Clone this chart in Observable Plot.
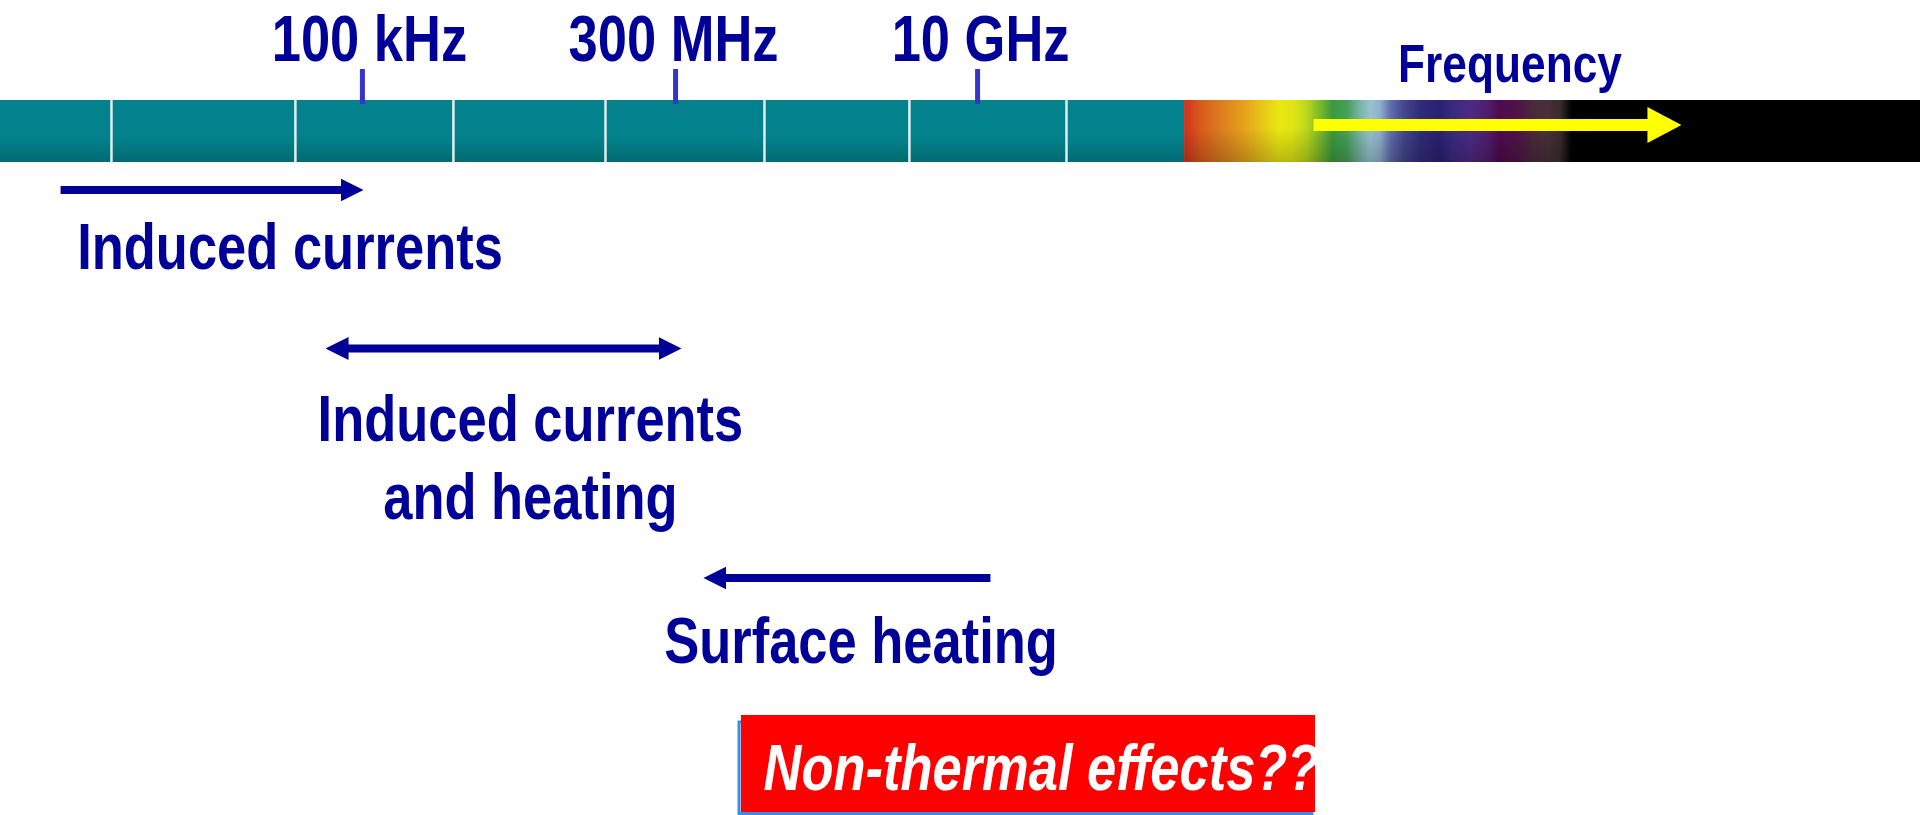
<!DOCTYPE html>
<html>
<head>
<meta charset="utf-8">
<script src="https://cdn.jsdelivr.net/npm/d3@7"></script>
<script src="https://cdn.jsdelivr.net/npm/@observablehq/plot@0.6"></script>
<style>
  html, body { margin: 0; padding: 0; background: #ffffff; overflow: hidden; }
  #chart svg { display: block; }
</style>
</head>
<body>
<div id="chart"></div>
<script>
// ---------------- DATA (x = position along the frequency bar, % of its length) ----------------
const radioCellEdges = [0, 5.78, 15.36, 23.59, 31.51, 39.79, 47.34, 55.52, 61.67];
const opticalBand = [61.67, 100];
const tickLabels = ["100 kHz", "300 MHz", "10 GHz"];
const tickPositions = [18.85, 35.16, 50.89];
const effectLabels = ["Induced currents", "Induced currents\nand heating", "Surface heating"];
const effectFrom = [3.13, 16.93, 51.56];
const effectTo = [18.91, 35.47, 36.61];
const effectHeads = ["end", "both", "end"];
const axisTitle = "Frequency";
const axisArrow = [68.39, 87.55];
const noteLabel = "Non-thermal effects??";
const noteBox = [38.59, 68.49];

// ---------------- LAYOUT & STYLE ----------------
const W = 1920, H = 815;
const L = {
  tickLabelBaseline: 60, tickLabelDx: [7, -2, 3], tickTop: 69, tickBottom: 104,
  barTop: 100, barBottom: 162,
  axisTitleX: 78.62, axisTitleBaseline: 81, axisArrowY: 124.5,
  effectArrowY: [189.5, 348, 577.5],
  effectLabelX: [15.08, 27.6, 44.82],
  effectLabelBaseline: [268, 518, 662],
  boxTop: 715, boxBottom: 812, outline: [38.49, 68.33, 722, 813.5],
  noteX: 39.74, noteBaseline: 789
};
const NAVY = "#000099";
const SPECTRUM = [[0,"#cf321c"],[2.2,"#d85a1c"],[4.9,"#dc7c1e"],[8.6,"#e6a81a"],[10.7,"#e8c818"],[13.0,"#e8e810"],[14.8,"#e0e414"],[16.7,"#b8d81c"],[18.5,"#7ab82a"],[20.2,"#3a9a3e"],[22.1,"#44a058"],[23.9,"#78b4a8"],[25.3,"#98c2cc"],[26.6,"#90b0cc"],[28.0,"#6070ac"],[29.8,"#44488e"],[32.1,"#302c7a"],[34.8,"#2a2070"],[36.5,"#3a2a80"],[38.9,"#4e2a84"],[41.2,"#4e1e6e"],[42.9,"#4e0a4e"],[45.7,"#4e1646"],[47.4,"#4a2a3a"],[49.3,"#483038"],[51.1,"#3a2a2e"],[52.7,"#000000"],[100,"#000000"]];
const NAVY_HEAD = 23, YELLOW_HEAD = 34;

// font: Arial Narrow Bold look
function hasFont(name) {
  const c = document.createElement("canvas").getContext("2d");
  const s = "Induced currents 100 kHz";
  let diff = false;
  for (const g of ["monospace", "serif"]) {
    c.font = `bold 64px ${g}`; const a = c.measureText(s).width;
    c.font = `bold 64px "${name}", ${g}`; const b = c.measureText(s).width;
    if (Math.abs(a - b) > 0.5) diff = true;
  }
  return diff;
}
const narrow = hasFont("Liberation Sans Narrow");
const FONT = narrow ? "'Liberation Sans Narrow', 'Arial Narrow', sans-serif" : "'Liberation Sans', Arial, sans-serif";
const SX = narrow ? 1 : 0.82;

// ---------------- TABLES ----------------
const pxToX = px => px * 100 / W;
const cells = d3.pairs(radioCellEdges).map(([x1, x2]) => ({x1, x2}));
const dividers = radioCellEdges.slice(1, -1);
const ticks = tickLabels.map((label, i) => ({label, x: tickPositions[i], lx: tickPositions[i] + pxToX(L.tickLabelDx[i])}));
const effects = effectLabels.map((label, i) => {
  const from = effectFrom[i], to = effectTo[i], dir = Math.sign(to - from);
  const inset = pxToX(NAVY_HEAD / 2);
  return {
    label, heads: effectHeads[i],
    x1: effectHeads[i] === "both" ? from + dir * inset : from,
    x2: to - dir * inset,
    y: L.effectArrowY[i], lx: L.effectLabelX[i], ly: L.effectLabelBaseline[i]
  };
});
const freqArrow = [{x1: axisArrow[0], x2: axisArrow[1] - pxToX(YELLOW_HEAD / 2), y: L.axisArrowY}];

const textStyle = {fontFamily: FONT, fontWeight: "bold", fontSize: 64, fill: NAVY, lineAnchor: "bottom"};

const svg = Plot.plot({
  width: W, height: H, margin: 0,
  x: {domain: [0, 100], range: [0, W], axis: null},
  y: {domain: [0, H], range: [0, H], axis: null},
  style: {background: "transparent", overflow: "visible"},
  marks: [
    // radio band cells
    Plot.rect(cells, {x1: "x1", x2: "x2", y1: L.barTop, y2: L.barBottom, fill: "url(#tealGrad)"}),
    // optical spectrum
    Plot.rect([opticalBand], {x1: d => d[0], x2: d => d[1], y1: L.barTop, y2: L.barBottom, fill: "url(#spectrumGrad)"}),
    Plot.rect([opticalBand], {x1: d => d[0], x2: d => d[1], y1: L.barTop, y2: L.barBottom, fill: "url(#shadeGrad)"}),
    Plot.ruleX(dividers, {x: d => d, y1: L.barTop, y2: L.barBottom, stroke: "#e2eeee", strokeWidth: 2.5}),
    // frequency ticks + labels
    Plot.ruleX(ticks, {x: "x", y1: L.tickTop, y2: L.tickBottom, stroke: "#3535c9", strokeWidth: 5}),
    Plot.text(ticks, {x: "lx", y: L.tickLabelBaseline, text: "label", ...textStyle}),
    // axis title + arrow
    Plot.text([axisTitle], {x: L.axisTitleX, y: L.axisTitleBaseline, text: d => d, ...textStyle, fontSize: 54}),
    Plot.link(freqArrow, {x1: "x1", x2: "x2", y1: "y", y2: "y", stroke: "#ffff00", strokeWidth: 12, strokeLinecap: "butt"}),
    // effect ranges
    Plot.link(effects, {x1: "x1", x2: "x2", y1: "y", y2: "y", stroke: NAVY, strokeWidth: 8, strokeLinecap: "butt"}),
    Plot.text(effects, {x: "lx", y: "ly", text: "label", ...textStyle, lineHeight: 78 / 64}),
    // note box
    Plot.rect([L.outline], {x1: d => d[0], x2: d => d[1], y1: d => d[2], y2: d => d[3], fill: "none", stroke: "#3a8de4", strokeWidth: 3}),
    Plot.rect([noteBox], {x1: d => d[0], x2: d => d[1], y1: L.boxTop, y2: L.boxBottom, fill: "#ff0000"}),
    Plot.text([noteLabel], {x: L.noteX, y: L.noteBaseline, text: d => d, ...textStyle, fill: "#ffffff", fontStyle: "italic", textAnchor: "start"})
  ]
});

// ---------------- DEFS: gradients and arrowheads ----------------
const ns = "http://www.w3.org/2000/svg";
const defs = d3.create("svg:defs");
const tg = defs.append("linearGradient").attr("id", "tealGrad").attr("x1", 0).attr("y1", 0).attr("x2", 0).attr("y2", 1);
[[0, "#03818c"], [0.55, "#03838e"], [0.8, "#02777f"], [1, "#026a72"]].forEach(([o, c]) => tg.append("stop").attr("offset", o).attr("stop-color", c));
const sg = defs.append("linearGradient").attr("id", "spectrumGrad").attr("x1", 0).attr("y1", 0).attr("x2", 1).attr("y2", 0);
SPECTRUM.forEach(([o, c]) => sg.append("stop").attr("offset", o / 100).attr("stop-color", c));
const hg = defs.append("linearGradient").attr("id", "shadeGrad").attr("x1", 0).attr("y1", 0).attr("x2", 0).attr("y2", 1);
hg.append("stop").attr("offset", 0.45).attr("stop-color", "#000").attr("stop-opacity", 0);
hg.append("stop").attr("offset", 1).attr("stop-color", "#000").attr("stop-opacity", 0.2);
function marker(id, len, h, color) {
  defs.append("marker").attr("id", id).attr("viewBox", `0 0 ${len} ${h}`)
    .attr("refX", len / 2).attr("refY", h / 2).attr("markerUnits", "userSpaceOnUse")
    .attr("markerWidth", len).attr("markerHeight", h).attr("orient", "auto-start-reverse")
    .append("path").attr("d", `M0,0L${len},${h / 2}L0,${h}Z`).attr("fill", color);
}
marker("headNavy", NAVY_HEAD, 23, NAVY);
marker("headYellow", YELLOW_HEAD, 36, "#ffff00");
svg.insertBefore(defs.node(), svg.firstChild);

const linkGroups = svg.querySelectorAll('g[aria-label="link"]');
linkGroups[0].querySelectorAll("path").forEach(p => p.setAttribute("marker-end", "url(#headYellow)"));
linkGroups[1].querySelectorAll("path").forEach((p, i) => {
  p.setAttribute("marker-end", "url(#headNavy)");
  if (effects[i].heads === "both") p.setAttribute("marker-start", "url(#headNavy)");
});

// condense text horizontally when a narrow face is not installed
if (SX !== 1) {
  svg.querySelectorAll("text").forEach(t => {
    const tr = t.getAttribute("transform");
    if (tr) t.setAttribute("transform", `${tr} scale(${SX},1)`);
    else {
      const x = +t.getAttribute("x") || 0, y = +t.getAttribute("y") || 0;
      t.removeAttribute("x"); t.removeAttribute("y");
      t.setAttribute("transform", `translate(${x},${y}) scale(${SX},1)`);
    }
  });
}

document.getElementById("chart").appendChild(svg);
</script>
</body>
</html>
